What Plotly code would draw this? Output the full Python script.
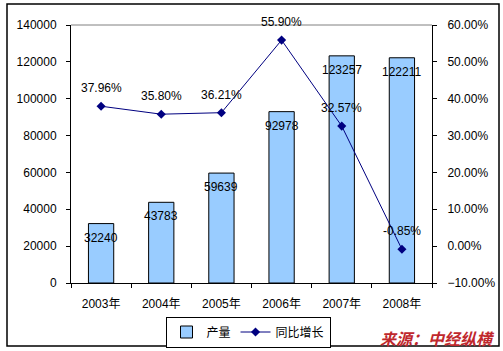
import plotly.graph_objects as go

years = ["2003年", "2004年", "2005年", "2006年", "2007年", "2008年"]
output = [32240, 43783, 59639, 92978, 123257, 122211]
growth = [0.3796, 0.3580, 0.3621, 0.5590, 0.3257, -0.0085]
growth_labels = ["37.96%", "35.80%", "36.21%", "55.90%", "32.57%", "-0.85%"]

FONT = "Liberation Sans, Arial, Noto Sans CJK SC, sans-serif"
W, H = 503, 351

def px(x):
    return x / W

def py(y):
    return 1 - y / H

fig = go.Figure()
fig.add_trace(go.Bar(
    x=years, y=output, name="产量",
    marker=dict(color="#99CCFF", line=dict(color="black", width=1)),
))
fig.add_trace(go.Scatter(
    x=years, y=growth, name="同比增长", yaxis="y2",
    mode="lines+markers",
    line=dict(color="#000080", width=1),
    marker=dict(symbol="diamond", size=7, color="#000080"),
))

annotations = []
for yr, v in zip(years, output):
    annotations.append(dict(x=yr, y=v, xref="x", yref="y", text=str(v), showarrow=False,
                            yanchor="middle", yshift=-14,
                            font=dict(size=12, color="black", family=FONT)))
for yr, g, lab in zip(years, growth, growth_labels):
    annotations.append(dict(x=yr, y=g, xref="x", yref="y2", text=lab, showarrow=False,
                            yanchor="middle", yshift=18,
                            font=dict(size=12, color="black", family=FONT)))
annotations.append(dict(text="<b><i>来源：中经纵横</i></b>", xref="paper", yref="paper",
                        x=px(497), y=py(338), xanchor="right", yanchor="middle", showarrow=False,
                        font=dict(size=16, color="#C0282D", family="Noto Sans CJK SC")))

fig.update_layout(
    width=W, height=H,
    margin=dict(l=0, r=0, t=0, b=0, pad=0),
    paper_bgcolor="white", plot_bgcolor="white",
    font=dict(family=FONT, size=12, color="black"),
    bargap=0.58,
    xaxis=dict(domain=[px(71), px(432)], showgrid=False, showline=True, linecolor="black",
               linewidth=1, ticks="outside", tickson="boundaries", ticklen=4,
               tickcolor="black", tickfont=dict(size=12), ticklabelstandoff=10,
               automargin=False),
    yaxis=dict(domain=[py(283), py(25)], range=[0, 140000], dtick=20000, showgrid=False,
               showline=True, linecolor="black", linewidth=1, ticks="outside", ticklen=4,
               tickcolor="black", tickfont=dict(size=12), zeroline=False,
               tickformat="d", ticklabelstandoff=7, automargin=False),
    yaxis2=dict(range=[-0.10, 0.60], dtick=0.10, overlaying="y", side="right",
                anchor="x",
                showgrid=False, showline=True, linecolor="black", linewidth=1,
                ticks="outside", ticklen=4, tickcolor="black", tickformat=".2%",
                tickfont=dict(size=12), zeroline=False, ticklabelstandoff=8,
                automargin=False),
    showlegend=True,
    legend=dict(orientation="h", x=px(248), y=py(332), xanchor="center", yanchor="middle",
                bordercolor="black", borderwidth=1, bgcolor="white",
                font=dict(size=12), itemwidth=30, tracegroupgap=0),
    shapes=[
        dict(type="line", xref="paper", yref="paper", x0=px(71), x1=px(432),
             y0=py(25), y1=py(25), line=dict(color="#808080", width=1)),
        dict(type="rect", xref="paper", yref="paper", x0=px(7), x1=px(499),
             y0=py(346), y1=py(4), line=dict(color="black", width=1.5)),
    ],
    annotations=annotations,
)

fig.write_html("out.html")
